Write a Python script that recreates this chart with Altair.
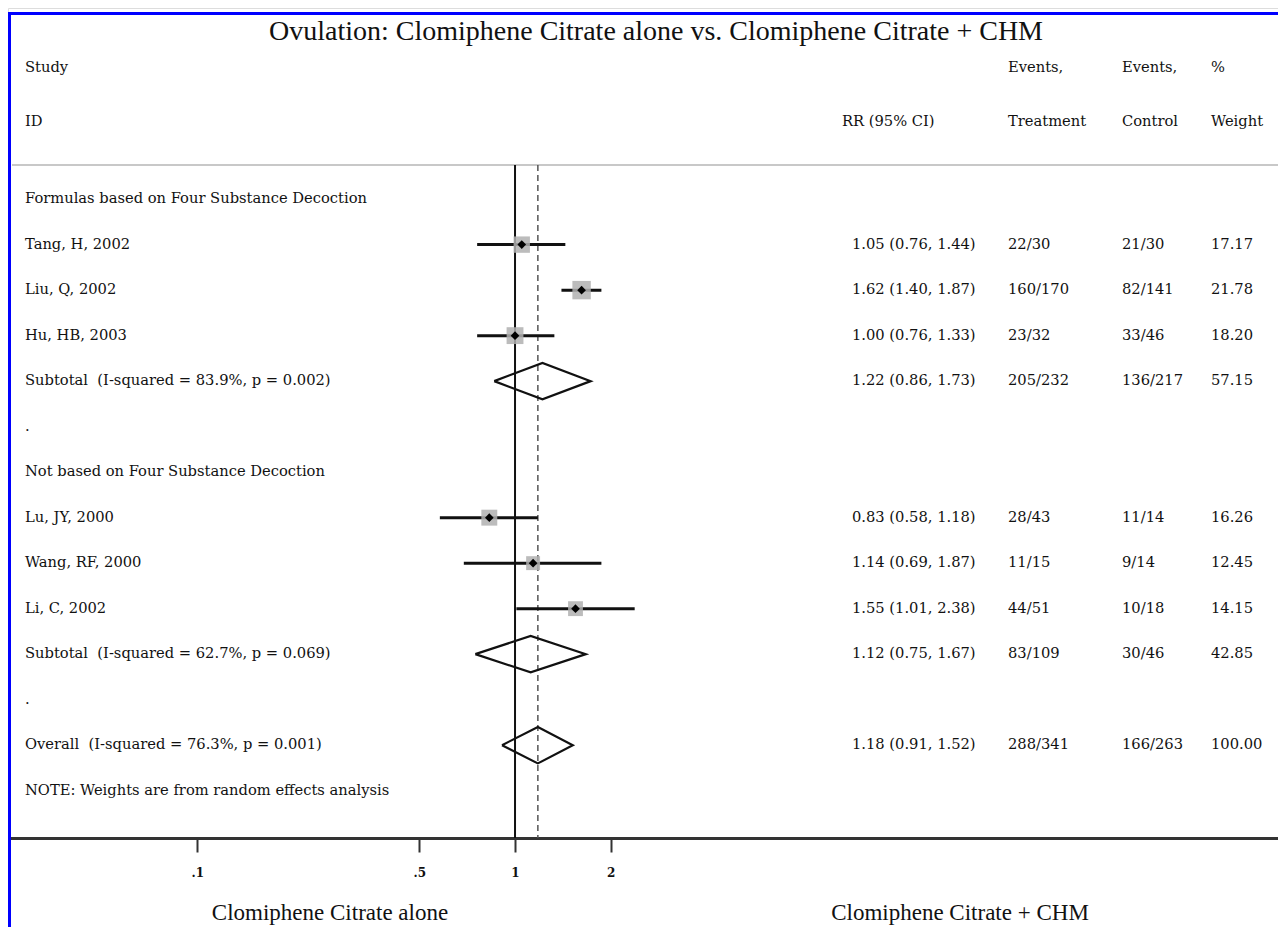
import altair as alt
import pandas as pd

# ---------------- data ----------------
study_labels = ["Tang, H, 2002", "Liu, Q, 2002", "Hu, HB, 2003",
                "Lu, JY, 2000", "Wang, RF, 2000", "Li, C, 2002"]
study_rows = [2, 3, 4, 8, 9, 10]
study_rr = [1.05, 1.62, 1.00, 0.83, 1.14, 1.55]
study_lo = [0.76, 1.40, 0.76, 0.58, 0.69, 1.01]
study_hi = [1.44, 1.87, 1.33, 1.18, 1.87, 2.38]
study_treat = ["22/30", "160/170", "23/32", "28/43", "11/15", "44/51"]
study_ctrl = ["21/30", "82/141", "33/46", "11/14", "9/14", "10/18"]
study_weight = [17.17, 21.78, 18.20, 16.26, 12.45, 14.15]

sum_labels = ["Subtotal\u00a0 (I-squared = 83.9%, p = 0.002)",
              "Subtotal\u00a0 (I-squared = 62.7%, p = 0.069)",
              "Overall\u00a0 (I-squared = 76.3%, p = 0.001)"]
sum_rows = [5, 11, 13]
sum_rr = [1.22, 1.12, 1.18]
sum_lo = [0.86, 0.75, 0.91]
sum_hi = [1.73, 1.67, 1.52]
sum_treat = ["205/232", "83/109", "288/341"]
sum_ctrl = ["136/217", "30/46", "166/263"]
sum_weight = ["57.15", "42.85", "100.00"]

other_labels = ["Formulas based on Four Substance Decoction", ".",
                "Not based on Four Substance Decoction", ".",
                "NOTE: Weights are from random effects analysis"]
other_rows = [1, 6, 7, 12, 14]

tick_values = [0.1, 0.5, 1, 2]
title_text = "Ovulation: Clomiphene Citrate alone vs. Clomiphene Citrate + CHM"
left_label = "Clomiphene Citrate alone"
right_label = "Clomiphene Citrate + CHM"

# ---------------- tables ----------------
def rr_text(e, l, h):
    return f"{e:.2f} ({l:.2f}, {h:.2f})"

studies = pd.DataFrame({
    "row": study_rows, "label": study_labels, "rr": study_rr,
    "lo": study_lo, "hi": study_hi, "treat": study_treat,
    "ctrl": study_ctrl, "weight": study_weight,
    "wtext": [f"{w:.2f}" for w in study_weight],
    "rrtext": [rr_text(e, l, h) for e, l, h in zip(study_rr, study_lo, study_hi)],
})
summ = pd.DataFrame({
    "row": sum_rows, "label": sum_labels, "treat": sum_treat,
    "ctrl": sum_ctrl, "wtext": sum_weight,
    "rrtext": [rr_text(e, l, h) for e, l, h in zip(sum_rr, sum_lo, sum_hi)],
})
others = pd.DataFrame({"row": other_rows, "label": other_labels})
textrows = pd.concat([studies[["row", "label", "rrtext", "treat", "ctrl", "wtext"]],
                      summ, others], ignore_index=True).fillna("")

half = 0.40
dia = []
for i, (r, e, l, h) in enumerate(zip(sum_rows, sum_rr, sum_lo, sum_hi)):
    pts = [(l, r), (e, r - half), (h, r), (e, r + half), (l, r)]
    for k, (x, y) in enumerate(pts):
        dia.append({"id": i, "order": k, "x": x, "y": y})
dia = pd.DataFrame(dia)

# ---------------- scales ----------------
W, H = 1270, 830
FONT = "DejaVu Serif"
TXT = "#111111"
FS = 14.7

xscale = alt.Scale(type="log", domain=[0.02537, 251.9], nice=False, zero=False)
yscale = alt.Scale(domain=[-3.2, 15.04], reverse=True, nice=False, zero=False)

# ---------------- layers ----------------
ci = alt.Chart(studies).mark_rule(color="#111", strokeWidth=3).encode(
    x=alt.X("lo:Q", scale=xscale,
            axis=alt.Axis(values=tick_values, title=None, grid=False,
                          labelExpr="datum.value < 1 ? substring(toString(datum.value), 1) : toString(datum.value)",
                          domainColor="#333", domainWidth=3, tickColor="#333",
                          tickWidth=2, tickSize=14, labelPadding=15,
                          labelFont=FONT, labelFontWeight="bold", labelFontSize=12,
                          labelColor=TXT, labelFlush=False)),
    x2="hi:Q",
    y=alt.Y("row:Q", scale=yscale, axis=None),
)

boxes = alt.Chart(studies).mark_square(color="#b0b0b0", opacity=0.85, filled=True).encode(
    x=alt.X("rr:Q", scale=xscale),
    y=alt.Y("row:Q", scale=yscale),
    size=alt.Size("weight:Q", scale=alt.Scale(domain=[0, 25], range=[0, 390]), legend=None),
)

pts = alt.Chart(studies).mark_point(shape="diamond", filled=True, color="#000",
                                    size=75, opacity=1).encode(
    x=alt.X("rr:Q", scale=xscale),
    y=alt.Y("row:Q", scale=yscale),
)

diamonds = alt.Chart(dia).mark_line(color="#111", strokeWidth=2.2).encode(
    x=alt.X("x:Q", scale=xscale),
    y=alt.Y("y:Q", scale=yscale),
    detail="id:N",
    order="order:Q",
)

null_line = alt.Chart().mark_rule(color="#111", strokeWidth=2).encode(
    x=alt.X(datum=1, type="quantitative", scale=xscale),
    y=alt.value(157), y2=alt.value(H),
)
overall_line = alt.Chart().mark_rule(color="#555", strokeWidth=1.5,
                                     strokeDash=[6, 4]).encode(
    x=alt.X(datum=sum_rr[2], type="quantitative", scale=xscale),
    y=alt.value(157), y2=alt.value(H),
)

sep = alt.Chart().mark_rule(color="#c8c8c8", strokeWidth=2).encode(
    x=alt.value(4), x2=alt.value(W), y=alt.value(157))

blue_left = alt.Chart().mark_rule(color="#0000ff", strokeWidth=3).encode(
    x=alt.value(1.5), y=alt.value(4), y2=alt.value(H + 100))
blue_top = alt.Chart().mark_rule(color="#0000ff", strokeWidth=3).encode(
    x=alt.value(0), x2=alt.value(W), y=alt.value(5.5))


def col(field, xpos):
    return alt.Chart(textrows).mark_text(align="left", baseline="middle", font=FONT,
                                         fontSize=FS, color=TXT).encode(
        x=alt.value(xpos), y=alt.Y("row:Q", scale=yscale), text=f"{field}:N")


texts = [col("label", 17), col("rrtext", 844), col("treat", 1000),
         col("ctrl", 1114), col("wtext", 1203)]

headers_df = pd.DataFrame({
    "t": ["Study", "ID", "RR (95% CI)", "Events,", "Treatment", "Events,",
          "Control", "%", "Weight"],
    "px": [17, 17, 834, 1000, 1000, 1114, 1114, 1203, 1203],
    "py": [60, 114, 114, 60, 114, 60, 114, 60, 114],
})
headers = alt.Chart(headers_df).mark_text(align="left", baseline="middle", font=FONT,
                                           fontSize=FS, color=TXT).encode(
    x=alt.X("px:Q", scale=None), y=alt.Y("py:Q", scale=None), text="t:N")

title = alt.Chart().mark_text(align="center", baseline="middle",
                              font="Liberation Serif", fontSize=28, color=TXT).encode(
    x=alt.value(648), y=alt.value(24), text=alt.value(title_text))

bottom_df = pd.DataFrame({"t": [left_label, right_label], "px": [322, 952]})
bottom = alt.Chart(bottom_df).mark_text(align="center", baseline="middle",
                                        font="Liberation Serif", fontSize=23,
                                        color=TXT).encode(
    x=alt.X("px:Q", scale=None), y=alt.value(H + 75), text="t:N")

chart = alt.layer(
    sep, null_line, overall_line, ci, boxes, pts, diamonds,
    *texts, headers, title, bottom, blue_left, blue_top,
).properties(
    width=W, height=H,
    autosize=alt.AutoSizeParams(type="none"),
    padding={"left": 0, "top": 0, "right": 0, "bottom": 95},
).configure_view(strokeWidth=0).configure(background="white")

chart.save("out.html", embed_options={"renderer": "svg", "actions": False})
